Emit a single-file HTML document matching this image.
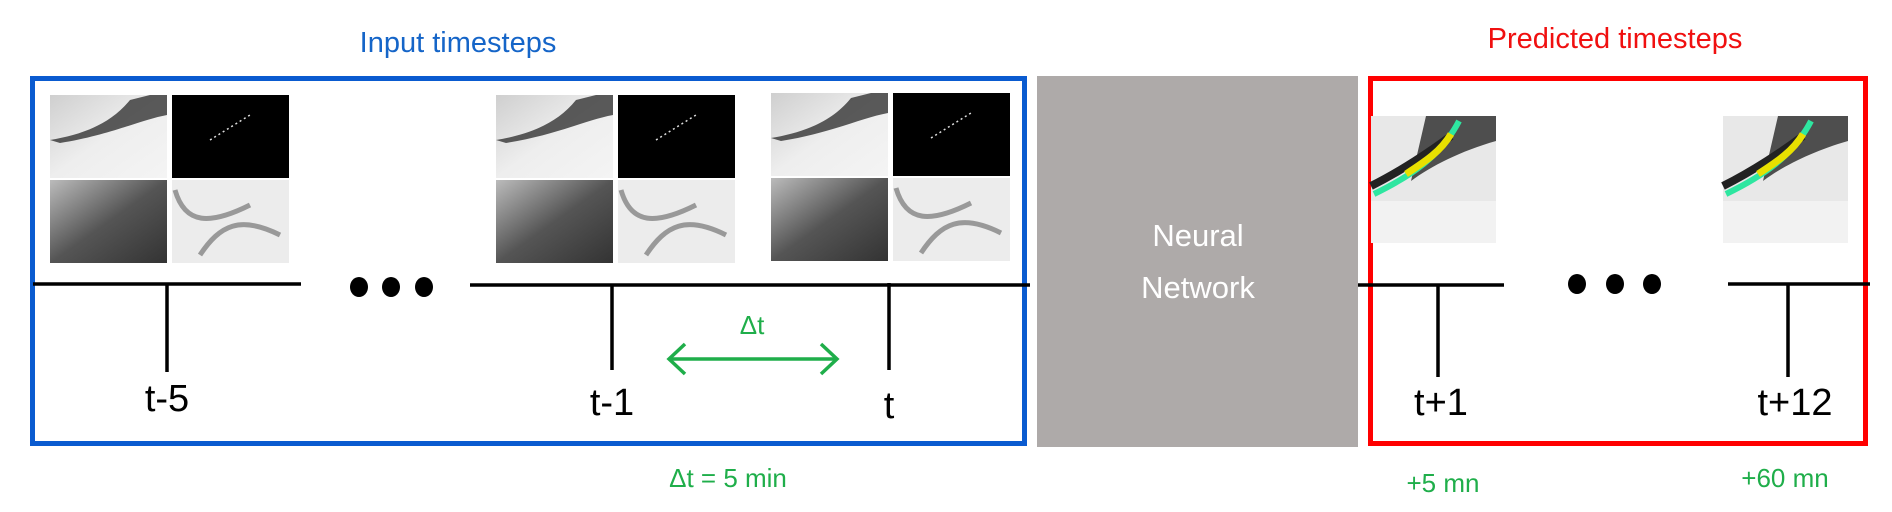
<!DOCTYPE html><html><head><style>body{margin:0;background:#fff}svg{display:block}</style></head><body>
<svg width="1892" height="512" xmlns="http://www.w3.org/2000/svg" font-family="Liberation Sans, sans-serif">
<defs>
<linearGradient id="g1" x1="0" y1="0" x2="1" y2="1"><stop offset="0" stop-color="#cfcfcf"/><stop offset="0.5" stop-color="#eee"/><stop offset="1" stop-color="#f4f4f4"/></linearGradient>
<linearGradient id="g3" x1="0" y1="0" x2="1" y2="1"><stop offset="0" stop-color="#bbb"/><stop offset="0.5" stop-color="#555"/><stop offset="1" stop-color="#333"/></linearGradient>
<g id="quad">
<rect x="0" y="0" width="117" height="83" fill="url(#g1)"/>
<path d="M0 45 C30 40 60 30 80 5 L100 0 L117 0 L117 20 C90 25 60 40 10 48 Z" fill="#333" opacity="0.8"/>
<rect x="122" y="0" width="117" height="83" fill="#000"/>
<path d="M160 45 L200 20" stroke="#ddd" stroke-width="1.5" stroke-dasharray="2 3"/>
<rect x="0" y="85" width="117" height="83" fill="url(#g3)"/>
<rect x="122" y="85" width="117" height="83" fill="#ececec"/>
<path d="M125 95 C135 130 160 130 200 110 M150 160 C170 130 190 120 230 140" stroke="#999" stroke-width="5" fill="none"/>
</g>
<g id="pred">
<rect x="0" y="0" width="125" height="127" fill="#e8e8e8"/>
<path d="M0 20 L125 0 L125 40 C80 50 40 70 0 80 Z" fill="#fff" opacity="0"/>
<path d="M55 0 L125 0 L125 25 C90 35 60 50 40 65 Z" fill="#333" opacity="0.85"/>
<path d="M0 70 C30 55 60 35 80 20" stroke="#222" stroke-width="8" fill="none"/>
<path d="M3 78 C40 60 70 40 88 5" stroke="#2ee6a0" stroke-width="6" fill="none"/>
<path d="M35 58 C55 45 70 35 80 18" stroke="#e8e000" stroke-width="7" fill="none"/>
<rect x="0" y="85" width="125" height="42" fill="#f2f2f2"/>
</g>
</defs>
<text x="458" y="52" font-size="29" fill="#1565c8" text-anchor="middle">Input timesteps</text>
<text x="1615" y="48" font-size="29" fill="#f01010" text-anchor="middle">Predicted timesteps</text>
<rect x="32.5" y="78.5" width="992" height="365" fill="none" stroke="#0a5bd0" stroke-width="5"/>
<rect x="1037" y="76" width="321" height="371" fill="#aeaaa9"/>
<text x="1198" y="246" font-size="31" fill="#fff" text-anchor="middle">Neural</text>
<text x="1198" y="298" font-size="31" fill="#fff" text-anchor="middle">Network</text>
<rect x="1370.5" y="78.5" width="495" height="365" fill="none" stroke="#f00" stroke-width="5"/>
<use href="#quad" x="50" y="95"/>
<use href="#quad" x="496" y="95"/>
<use href="#quad" x="771" y="93"/>
<use href="#pred" x="1371" y="116"/>
<use href="#pred" x="1723" y="116"/>
<g stroke="#000" stroke-width="3.5">
<line x1="33" y1="284" x2="301" y2="284"/>
<line x1="470" y1="285" x2="1030" y2="285"/>
<line x1="1358" y1="285" x2="1504" y2="285"/>
<line x1="1728" y1="284" x2="1870" y2="284"/>
<line x1="167" y1="284" x2="167" y2="372"/>
<line x1="612" y1="285" x2="612" y2="370"/>
<line x1="889" y1="283" x2="889" y2="370"/>
<line x1="1438" y1="285" x2="1438" y2="377"/>
<line x1="1788" y1="284" x2="1788" y2="377"/>
</g>
<g fill="#000"><ellipse cx="359" cy="287" rx="9" ry="10"/><ellipse cx="391" cy="287" rx="9" ry="10"/><ellipse cx="424" cy="287" rx="9" ry="10"/>
<ellipse cx="1577" cy="284" rx="9" ry="10"/><ellipse cx="1615" cy="284" rx="9" ry="10"/><ellipse cx="1652" cy="284" rx="9" ry="10"/></g>
<g font-size="38" fill="#000" text-anchor="middle">
<text x="167" y="411">t-5</text><text x="612" y="415">t-1</text><text x="889" y="418">t</text>
<text x="1441" y="415">t+1</text><text x="1795" y="415">t+12</text></g>
<g fill="#1fae4a" text-anchor="middle">
<text x="752" y="334" font-size="26">Δt</text>
<text x="728" y="487" font-size="26">Δt = 5 min</text>
<text x="1443" y="492" font-size="26">+5 mn</text>
<text x="1785" y="487" font-size="26">+60 mn</text></g>
<g stroke="#1fae4a" stroke-width="3.5" fill="none"><line x1="670" y1="359" x2="836" y2="359"/>
<polyline points="685,344 669,359 685,374"/><polyline points="821,344 837,359 821,374"/></g>
</svg></body></html>
